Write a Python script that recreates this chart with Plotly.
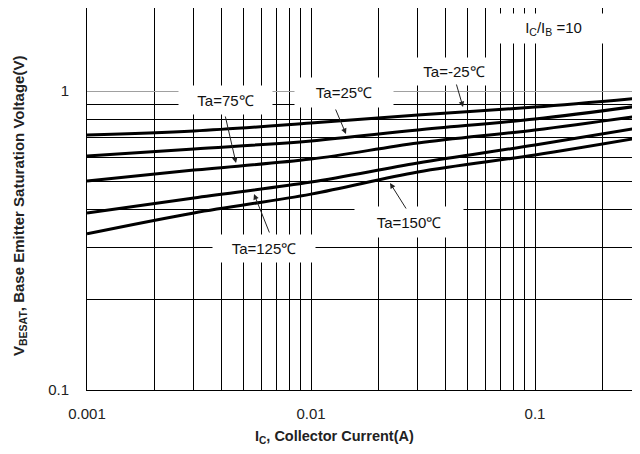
import plotly.graph_objects as go
import math

# ---- data ----
ic = [0.001, 0.003, 0.01, 0.03, 0.1, 0.29]
v_m25 = [0.713, 0.735, 0.781, 0.831, 0.884, 0.947]
v_25 = [0.606, 0.640, 0.681, 0.741, 0.806, 0.891]
v_75 = [0.500, 0.544, 0.592, 0.670, 0.741, 0.825]
v_125 = [0.391, 0.439, 0.496, 0.574, 0.660, 0.752]
v_150 = [0.333, 0.391, 0.452, 0.536, 0.611, 0.697]

series = [v_m25, v_25, v_75, v_125, v_150]
names = ["Ta=-25℃", "Ta=25℃", "Ta=75℃", "Ta=125℃", "Ta=150℃"]

x_tickvals = [0.001, 0.01, 0.1]
x_ticktext = ["0.001", "0.01", "0.1"]
y_tickvals = [0.1, 1]
y_ticktext = ["0.1", "1"]

FONT = "Liberation Sans, Arial, sans-serif"

# layout geometry (page body has an 8px margin)
OFF = 8
W, H = 640, 454
L, R, T, B = 79, 0, 0, 72
PW, PH = W - L - R, H - T - B
DEC_X, DEC_Y = 224.0, 299.0


def px(xs):
    return (xs - OFF - L) / PW


def py(ys):
    return (H - B - (ys - OFF)) / PH


fig = go.Figure()
for s, n in zip(series, names):
    fig.add_trace(go.Scatter(x=ic, y=s, mode="lines", name=n,
                             line=dict(color="black", width=3, shape="spline"),
                             showlegend=False, hoverinfo="skip"))

x_minor = [m * 10 ** e for e in (-3, -2, -1) for m in range(2, 10)]
y_minor = [m * 0.1 for m in range(2, 10)]

fig.update_xaxes(type="log", range=[-3, -3 + PW / DEC_X],
                 tickvals=x_tickvals, ticktext=x_ticktext,
                 showgrid=True, gridcolor="black", gridwidth=1,
                 minor=dict(tickvals=x_minor, showgrid=True, gridcolor="black", gridwidth=1, ticks=""),
                 showline=True, linecolor="black", linewidth=1, mirror=True,
                 ticks="", ticklabelstandoff=10,
                 tickfont=dict(family=FONT, size=15, color="#222"),
                 zeroline=False)
fig.update_yaxes(type="log", range=[-1, -1 + PH / DEC_Y],
                 tickvals=y_tickvals, ticktext=y_ticktext,
                 showgrid=True, gridcolor="#a0a0a0", gridwidth=1,
                 minor=dict(tickvals=y_minor, showgrid=True, gridcolor="black", gridwidth=1, ticks=""),
                 showline=True, linecolor="black", linewidth=1, mirror=True,
                 ticks="", ticklabelstandoff=14,
                 tickfont=dict(family=FONT, size=15, color="#222"),
                 zeroline=False)

annotations = []
# label boxes (center px on screen, width, height)
boxes = [
    ("Ta=75℃", 225, 100, 93, 28),
    ("Ta=25℃", 344, 92, 98, 29),
    ("Ta=-25℃", 454, 72, 82, 27),
    ("I<sub>C</sub>/I<sub>B</sub> =10", 553, 28, 115, 29),
    ("Ta=125℃", 264, 248, 102, 27),
    ("Ta=150℃", 409, 222, 108, 30),
]
for txt, cx, cy, w, h in boxes:
    annotations.append(dict(text=txt, x=px(cx), y=py(cy), xref="paper", yref="paper",
                            xanchor="center", yanchor="middle", showarrow=False,
                            width=w, height=h, bgcolor="white", borderpad=0,
                            font=dict(family=FONT, size=15, color="#111")))

# arrows: tail px -> head px (screen)
arrows = [
    (225, 115, 236, 163),
    (335, 108, 346, 134),
    (456, 83, 463, 107),
    (270, 234, 254, 194),
    (407, 210, 390, 183),
]
for tx, ty, hx, hy in arrows:
    annotations.append(dict(text="", x=px(hx), y=py(hy), xref="paper", yref="paper",
                            ax=tx - hx, ay=ty - hy, showarrow=True,
                            arrowhead=2, arrowsize=1.1, arrowwidth=1, arrowcolor="#222"))

# axis titles
annotations.append(dict(text="<b>I<sub>C</sub>, Collector Current(A)</b>", x=px(334), y=py(437),
                        xref="paper", yref="paper", xanchor="center", yanchor="middle",
                        showarrow=False, font=dict(family=FONT, size=14.5, color="#222")))
annotations.append(dict(text="<b>V<sub>BESAT</sub>, Base Emitter Saturation Voltage(V)</b>",
                        x=px(20), y=py(206), xref="paper", yref="paper",
                        xanchor="center", yanchor="middle", textangle=-90,
                        showarrow=False, font=dict(family=FONT, size=15, color="#222")))

fig.update_layout(width=W, height=H, margin=dict(l=L, r=R, t=T, b=B),
                  plot_bgcolor="white", paper_bgcolor="white",
                  annotations=annotations, showlegend=False)

fig.write_html("out.html")
